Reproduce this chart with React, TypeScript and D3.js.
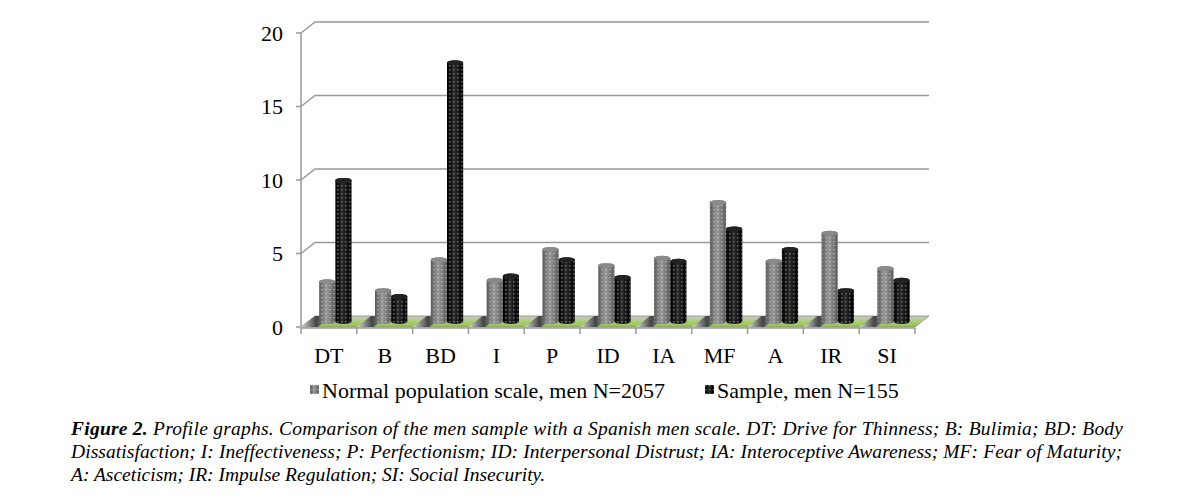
import React from "react";
import * as d3 from "d3";

const categories = ["DT", "B", "BD", "I", "P", "ID", "IA", "MF", "A", "IR", "SI"];
const normalValues = [2.7, 2.1, 4.2, 2.8, 4.9, 3.8, 4.3, 8.1, 4.1, 6.0, 3.6];
const sampleValues = [9.6, 1.7, 17.6, 3.1, 4.2, 3.0, 4.1, 6.3, 4.9, 2.1, 2.8];
const yTicks = [0, 5, 10, 15, 20];
const seriesNames = ["Normal population scale, men N=2057", "Sample, men N=155"];
const captionLines = [
  "Profile graphs. Comparison of the men sample with a Spanish men scale. DT: Drive for Thinness; B: Bulimia; BD: Body",
  "Dissatisfaction; I: Ineffectiveness; P: Perfectionism; ID: Interpersonal Distrust; IA: Interoceptive Awareness; MF: Fear of Maturity;",
  "A: Asceticism; IR: Impulse Regulation; SI: Social Insecurity.",
];

const W = 1177;
const H = 504;
const left = 301;
const right = 915;
const depthX = 14;
const depthY = -11;
const serif = "'Liberation Serif', 'Times New Roman', serif";

export default function App() {
  const x = d3.scaleBand<string>().domain(categories).range([left, right]);
  const y = d3.scaleLinear().domain([0, 20]).range([327, 33]);
  const inner = d3
    .scaleBand<number>()
    .domain([0, 1])
    .range([x.bandwidth() * 0.2, x.bandwidth() * 0.78]);

  const series = [normalValues, sampleValues];
  const grads = ["gradGray", "gradBlack"];
  const dots = ["dotsGray", "dotsBlack"];
  const tops = ["#8a8a8a", "#222"];

  const cylinder = (x0: number, w: number, yTop: number, yBase: number) => {
    const rx = w / 2;
    const ry = 2.5;
    return `M${x0},${yTop} L${x0},${yBase} A${rx},${ry} 0 0 0 ${x0 + w},${yBase} L${x0 + w},${yTop} A${rx},${ry} 0 0 0 ${x0},${yTop} Z`;
  };

  const floorPts = [
    [left, y(0)],
    [right, y(0)],
    [right + depthX, y(0) + depthY],
    [left + depthX, y(0) + depthY],
  ]
    .map((p) => p.join(","))
    .join(" ");

  return (
    <svg width={W} height={H} style={{ position: "absolute", left: 0, top: 0, background: "#fff" }}>
      <defs>
        <linearGradient id="gradGray" x1="0" x2="1" y1="0" y2="0">
          <stop offset="0" stopColor="#5a5a5a" />
          <stop offset="0.45" stopColor="#9a9a9a" />
          <stop offset="1" stopColor="#5a5a5a" />
        </linearGradient>
        <linearGradient id="gradBlack" x1="0" x2="1" y1="0" y2="0">
          <stop offset="0" stopColor="#000" />
          <stop offset="0.45" stopColor="#2a2a2a" />
          <stop offset="1" stopColor="#000" />
        </linearGradient>
        <pattern id="dotsGray" width="4" height="4" patternUnits="userSpaceOnUse">
          <rect x="1" y="1" width="2" height="1.2" fill="#c8c8c8" opacity="0.55" />
        </pattern>
        <pattern id="dotsBlack" width="4" height="4" patternUnits="userSpaceOnUse">
          <rect x="1" y="1" width="1.5" height="1.5" fill="#8a8a8a" opacity="0.7" />
        </pattern>
        <linearGradient id="floorGap" x1="0" x2="1" y1="0" y2="0">
          <stop offset="0" stopColor="#d8d8d8" />
          <stop offset="0.5" stopColor="#444" />
          <stop offset="1" stopColor="#bdbdbd" />
        </linearGradient>
        <linearGradient id="floorFill" x1="0" x2="0" y1="0" y2="1">
          <stop offset="0" stopColor="#c9c9c9" />
          <stop offset="0.55" stopColor="#a9cf6a" />
          <stop offset="1" stopColor="#92c050" />
        </linearGradient>
      </defs>

      {/* gridlines on back wall with diagonal to axis */}
      {yTicks.map((t) => (
        <g key={t}>
          {t > 0 && (
            <polyline
              points={`${left},${y(t)} ${left + depthX},${y(t) + depthY} ${right + depthX},${y(t) + depthY}`}
              fill="none"
              stroke="#999"
              strokeWidth={1.5}
            />
          )}
          <line x1={left - 5} x2={left} y1={y(t)} y2={y(t)} stroke="#999" strokeWidth={1.5} />
          <text
            x={283}
            y={y(t)}
            dy="0.35em"
            textAnchor="end"
            fontFamily={serif}
            fontSize={22}
            fill="#000"
          >
            {t}
          </text>
        </g>
      ))}
      <line x1={left} x2={left} y1={y(20)} y2={y(0)} stroke="#999" strokeWidth={1.5} />

      {/* floor */}
      <polygon points={floorPts} fill="url(#floorFill)" stroke="#8a8a8a" strokeWidth={0.8} />
      {categories.map((c) => {
        const x0 = x(c)!;
        const w = x.bandwidth() * 0.3;
        const pts = [
          [x0, y(0)],
          [x0 + w, y(0)],
          [x0 + w + depthX, y(0) + depthY],
          [x0 + depthX, y(0) + depthY],
        ]
          .map((p) => p.join(","))
          .join(" ");
        return <polygon key={c} points={pts} fill="url(#floorGap)" />;
      })}

      {/* bars */}
      {categories.map((c, i) =>
        series.map((vals, s) => {
          const x0 = x(c)! + inner(s)! + depthX / 2;
          const w = inner.bandwidth();
          const yTop = y(vals[i]) + depthY / 2;
          const yBase = y(0) + depthY / 2;
          const d = cylinder(x0, w, yTop, yBase);
          return (
            <g key={`${c}-${s}`}>
              <path d={d} fill={`url(#${grads[s]})`} />
              <path d={d} fill={`url(#${dots[s]})`} />
              <ellipse cx={x0 + w / 2} cy={yTop} rx={w / 2} ry={2.5} fill={tops[s]} />
            </g>
          );
        })
      )}

      {/* category axis */}
      <line x1={left} x2={right} y1={y(0) + 1} y2={y(0) + 1} stroke="#999" strokeWidth={1.5} />
      {[...categories.map((c) => x(c)!), right].map((tx, i) => (
        <line key={i} x1={tx} x2={tx} y1={y(0) + 1} y2={y(0) + 7} stroke="#999" strokeWidth={1.5} />
      ))}
      {categories.map((c) => (
        <text
          key={c}
          x={x(c)! + x.bandwidth() / 2}
          y={363}
          textAnchor="middle"
          fontFamily={serif}
          fontSize={22}
          fill="#000"
        >
          {c}
        </text>
      ))}

      {/* legend */}
      {seriesNames.map((name, s) => {
        const lx = s === 0 ? 310 : 705;
        return (
          <g key={name}>
            <rect x={lx} y={385} width={9} height={9} fill={`url(#${grads[s]})`} />
            <rect x={lx} y={385} width={9} height={9} fill={`url(#${dots[s]})`} />
            <text x={lx + 12} y={398} fontFamily={serif} fontSize={22} fill="#000">
              {name}
            </text>
          </g>
        );
      })}

      {/* caption */}
      <text
        x={71}
        y={435}
        fontFamily={serif}
        fontSize={19.5}
        fontStyle="italic"
        fill="#000"
        textLength={1052}
        lengthAdjust="spacing"
      >
        <tspan fontWeight="bold">Figure 2.</tspan>
        <tspan> {captionLines[0]}</tspan>
      </text>
      <text
        x={71}
        y={458}
        fontFamily={serif}
        fontSize={19.5}
        fontStyle="italic"
        fill="#000"
        textLength={1051}
        lengthAdjust="spacing"
      >
        {captionLines[1]}
      </text>
      <text x={71} y={481} fontFamily={serif} fontSize={19.5} fontStyle="italic" fill="#000">
        {captionLines[2]}
      </text>
    </svg>
  );
}
